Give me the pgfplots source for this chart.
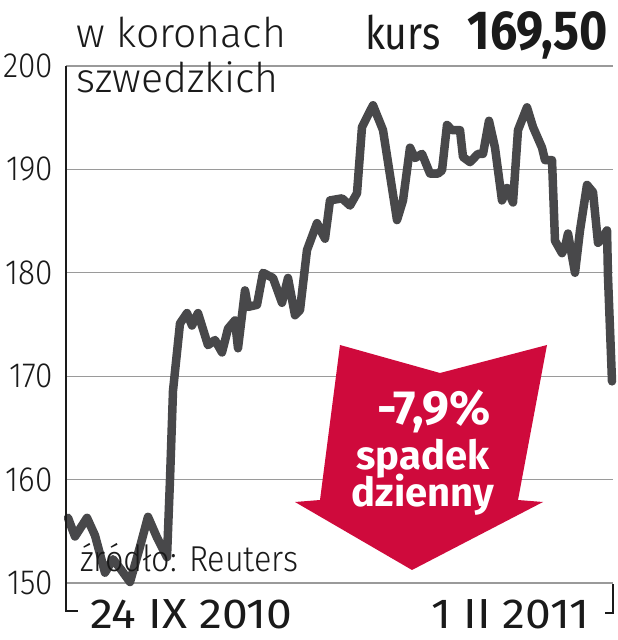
\documentclass[border=0pt]{standalone}
\usepackage{pgfplots}
\pgfplotsset{compat=1.18}
\usepackage{fontspec}
\setmainfont{Fira Sans}
\newfontfamily\lightf[UprightFont={* Light}, FakeStretch=0.9]{Fira Sans}
\newfontfamily\wlightf[UprightFont={* Light}, FakeStretch=1.0]{Fira Sans}
\newfontfamily\condf[FakeStretch=0.85]{Fira Sans}
\newfontfamily\datef[FakeStretch=1.1]{Fira Sans}
\newfontfamily\heavyf[UprightFont={* Bold}, FakeStretch=0.88]{Fira Sans}
\newfontfamily\arrowf[UprightFont={* Bold}]{Fira Sans}
\definecolor{gridc}{HTML}{9A9A9A}
\definecolor{linec}{HTML}{48484A}
\definecolor{txt}{HTML}{1A1A1A}
\definecolor{redc}{HTML}{CF0A3C}
\begin{document}
\begin{tikzpicture}[x=1pt,y=1pt]
\path[use as bounding box] (0,0) rectangle (618,640);
\begin{axis}[at={(66pt,57pt)}, anchor=south west, scale only axis,
  width=547pt, height=517pt,
  xmin=66, xmax=613, ymin=150, ymax=200,
  ytick={150,160,170,180,190,200}, xtick=\empty,
  ymajorgrids, grid style={draw=gridc, line width=1.3pt},
  axis line style={draw=none}, major tick length=0pt,
  yticklabel style={font=\lightf\fontsize{35}{35}\selectfont, text=txt, anchor=east, inner sep=0pt, xshift=-13pt},
  /pgf/number format/assume math mode=true,
  clip=false]
\addplot[linec, line width=8.5pt, line join=round, line cap=round] coordinates {
(68,156.3) (75,154.5) (87,156.3) (95,154.6) (105,151.0) (113,152.3) (121,151.3)
(130,150.1) (140,153.5) (148,156.4) (157,154.4) (167,152.5) (170,160.0) (173,168.6)
(180,175.1) (187,176.1) (192,174.9) (198,176.1) (208,173.0) (215,173.5) (222,172.3)
(228,174.6) (235,175.4) (238,172.7) (245,178.3) (248,176.7) (257,176.9) (263,180.0)
(273,179.5) (282,177.1) (288,179.5) (295,175.9) (300,176.4) (307,182.2) (317,184.8)
(325,183.3) (330,187.0) (342,187.2) (350,186.5) (357,187.7) (362,194.1) (373,196.2)
(383,193.8) (397,185.1) (403,187.0) (410,192.1) (415,191.1) (422,191.5) (430,189.6)
(438,189.6) (442,189.9) (447,194.3) (452,193.8) (460,193.8) (463,191.2) (470,190.7)
(478,191.5) (483,191.5) (489,194.7) (495,192.1) (502,187.0) (507,188.2) (513,186.8)
(518,193.8) (527,196.0) (533,194.1) (542,192.1) (545,190.9) (552,190.9) (555,183.1)
(562,181.9) (565,182.5) (568,183.8) (575,180.0) (580,184.1) (587,188.5) (593,187.8)
(598,182.9) (602,183.3) (607,184.1) (608,179.6) (612,169.5)
};
\end{axis}
% axis brackets
\draw[txt, line width=1.3pt] (66,574) -- (66,29) -- (78,29);
\draw[txt, line width=1.3pt] (605,27) -- (613,27) -- (613,56);
% red arrow
\fill[redc] (340,295) -- (440,267) -- (547,295) -- (518,140) -- (543,138) -- (412,70) -- (295,138) -- (320,140) -- cycle;
\node[anchor=base, white, inner sep=0pt, font=\arrowf\fontsize{48}{48}\selectfont] at (434,215) {-7,9\%};
\node[anchor=base, white, inner sep=0pt, font=\arrowf\fontsize{40}{40}\selectfont] at (423,170) {spadek};
\node[anchor=base, white, inner sep=0pt, font=\arrowf\fontsize{40}{40}\selectfont] at (423,133) {dzienny};
% header
\node[anchor=base west, text=txt, inner sep=0pt, font=\wlightf\fontsize{41}{41}\selectfont] at (76,592) {w koronach};
\node[anchor=base west, text=txt, inner sep=0pt, font=\wlightf\fontsize{41}{41}\selectfont] at (76,547) {szwedzkich};
\node[anchor=base west, text=txt, inner sep=0pt, font=\condf\fontsize{46}{46}\selectfont] at (365,590) {kurs};
\node[anchor=base east, text=txt, inner sep=0pt, font=\heavyf\fontsize{55}{55}\selectfont] at (608,590) {169,50};
% source
\node[anchor=base west, text=txt, inner sep=0pt, font=\lightf\fontsize{36}{36}\selectfont] at (80,68) {źródło: Reuters};
% dates
\node[anchor=base west, text=txt, inner sep=0pt, font=\datef\fontsize{42}{42}\selectfont] at (90,12) {24 IX 2010};
\node[anchor=base east, text=txt, inner sep=0pt, font=\datef\fontsize{42}{42}\selectfont] at (590,12) {1 II 2011};
\end{tikzpicture}
\end{document}
